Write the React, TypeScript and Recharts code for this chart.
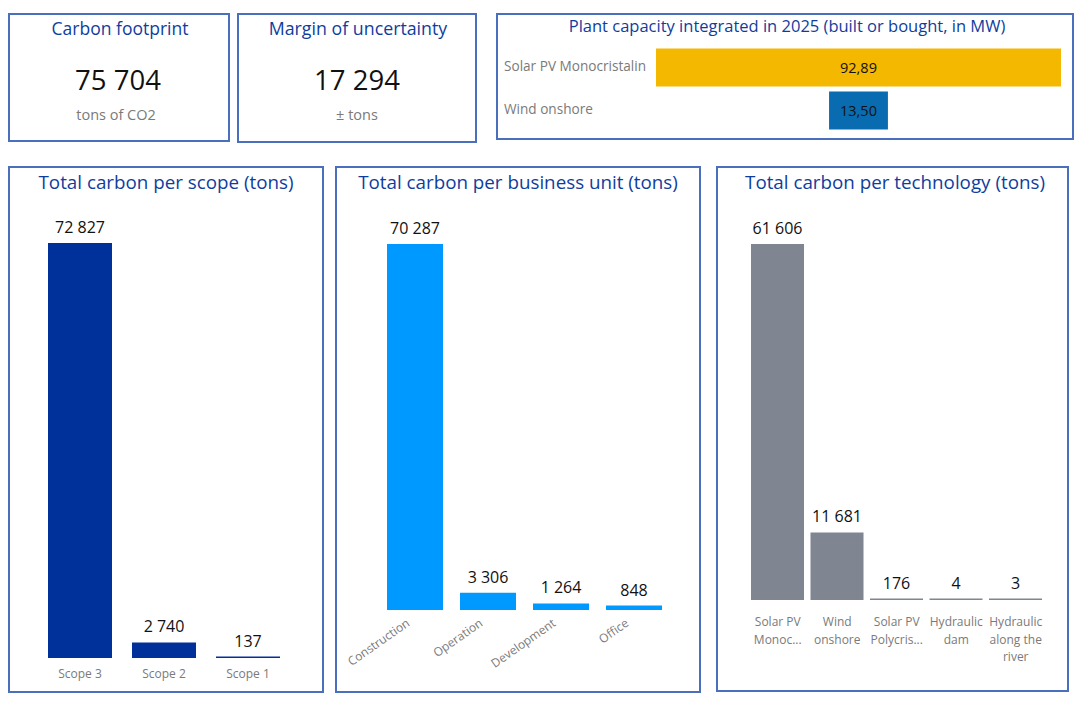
import { BarChart, Bar, XAxis, YAxis, Cell, LabelList } from "recharts";

const FONT = "'Open Sans', sans-serif";
const TITLE_BLUE = "#0f3d9e";
const BORDER = "#4a6fbd";
const GREY = "#7a7a7a";

const scopeNames = ["Scope 3", "Scope 2", "Scope 1"];
const scopeValues = [72827, 2740, 137];

const unitNames = ["Construction", "Operation", "Development", "Office"];
const unitValues = [70287, 3306, 1264, 848];

const techNames = [
  "Solar PV\nMonoc...",
  "Wind\nonshore",
  "Solar PV\nPolycris...",
  "Hydraulic\ndam",
  "Hydraulic\nalong the\nriver",
];
const techValues = [61606, 11681, 176, 4, 3];

const plantNames = ["Solar PV Monocristalin", "Wind onshore"];
const plantValues = [92.89, 13.5];
const plantColors = ["#f5b800", "#0a6cb0"];

const toRows = (names: string[], values: number[]) =>
  names.map((name, i) => ({ name, value: values[i] }));

const thousands = (v: any) => String(v).replace(/\B(?=(\d{3})+$)/g, " ");

function Box({ x, y, w, h }: { x: number; y: number; w: number; h: number }) {
  return (
    <div
      style={{
        position: "absolute",
        left: x - 1,
        top: y - 1,
        width: w + 2,
        height: h + 2,
        boxSizing: "border-box",
        border: `2px solid ${BORDER}`,
      }}
    />
  );
}

function Line(props: {
  text: string;
  cx: number;
  y: number;
  size: number;
  color: string;
}) {
  return (
    <div
      style={{
        position: "absolute",
        left: props.cx - 300,
        width: 600,
        top: props.y - 20,
        height: 40,
        lineHeight: "40px",
        textAlign: "center",
        fontFamily: FONT,
        fontSize: props.size,
        color: props.color,
        whiteSpace: "nowrap",
      }}
    >
      {props.text}
    </div>
  );
}

function WrappedTick({ x, y, payload, first }: any) {
  const lines = String(payload.value).split("\n");
  return (
    <text x={x} y={y} textAnchor="middle" fontFamily={FONT} fontSize={12} fill={GREY}>
      {lines.map((line, i) => (
        <tspan key={line} x={x} dy={i === 0 ? first : 17.5}>
          {line}
        </tspan>
      ))}
    </text>
  );
}

function SlantedTick({ x, y, payload }: any) {
  return (
    <text
      x={x - 4}
      y={y + 7}
      textAnchor="end"
      fontFamily={FONT}
      fontSize={12}
      fill={GREY}
      transform={`rotate(-35 ${x - 4} ${y + 7})`}
    >
      {payload.value}
    </text>
  );
}

function PlantTick({ y, payload }: any) {
  return (
    <text x={7} y={y + 4} fontFamily={FONT} fontSize={13.6} fill={GREY}>
      {payload.value}
    </text>
  );
}

function ColumnChart(props: {
  x: number;
  y: number;
  w: number;
  h: number;
  plotLeft: number;
  plotRight: number;
  plotTop: number;
  baseline: number;
  barSize: number;
  color: string;
  names: string[];
  values: number[];
  tick: any;
}) {
  const { x, y, w, h } = props;
  return (
    <div style={{ position: "absolute", left: x, top: y }}>
      <BarChart
        width={w}
        height={h}
        data={toRows(props.names, props.values)}
        margin={{
          top: props.plotTop - y,
          left: props.plotLeft - x,
          right: x + w - props.plotRight,
          bottom: 0,
        }}
      >
        <XAxis
          dataKey="name"
          interval={0}
          axisLine={false}
          tickLine={false}
          height={y + h - props.baseline}
          tick={props.tick}
        />
        <YAxis hide domain={[0, Math.max(...props.values)]} />
        <Bar
          dataKey="value"
          fill={props.color}
          barSize={props.barSize}
          minPointSize={1.5}
          isAnimationActive={false}
        >
          <LabelList
            dataKey="value"
            position="top"
            offset={10}
            formatter={thousands}
            style={{ fontFamily: FONT, fontSize: 16, fill: "#111" }}
          />
        </Bar>
      </BarChart>
    </div>
  );
}

function PlantChart() {
  const half = Math.max(...plantValues) / 2;
  return (
    <div style={{ position: "absolute", left: 497, top: 14 }}>
      <BarChart
        layout="vertical"
        width={576}
        height={125}
        data={toRows(plantNames, plantValues)}
        margin={{ top: 31.5, left: 0, right: 12, bottom: 7.5 }}
      >
        <XAxis type="number" hide domain={[-half, half]} />
        <YAxis
          type="category"
          dataKey="name"
          width={159}
          axisLine={false}
          tickLine={false}
          tick={<PlantTick />}
          interval={0}
        />
        <Bar
          dataKey={(d: any) => [-d.value / 2, d.value / 2]}
          barSize={38}
          isAnimationActive={false}
        >
          {plantColors.map((c) => (
            <Cell key={c} fill={c} />
          ))}
          <LabelList
            dataKey="value"
            position="center"
            formatter={(v: any) => Number(v).toFixed(2).replace(".", ",")}
            style={{ fontFamily: FONT, fontSize: 14.5, fill: "#111" }}
          />
        </Bar>
      </BarChart>
    </div>
  );
}

export default function App() {
  return (
    <div
      style={{
        position: "absolute",
        left: 0,
        top: 0,
        width: 1087,
        height: 707,
        background: "#fff",
        overflow: "hidden",
      }}
    >
      <Box x={9} y={14} w={220} h={127} />
      <Line text="Carbon footprint" cx={120} y={28} size={17.5} color={TITLE_BLUE} />
      <Line text="75 704" cx={118} y={80} size={27.5} color="#111" />
      <Line text="tons of CO2" cx={116} y={115} size={14.5} color={GREY} />

      <Box x={238} y={14} w={238} h={128} />
      <Line text="Margin of uncertainty" cx={358} y={28} size={17.8} color={TITLE_BLUE} />
      <Line text="17 294" cx={357} y={80} size={27.5} color="#111" />
      <Line text="± tons" cx={357} y={115} size={14.5} color={GREY} />

      <Box x={497} y={14} w={576} h={125} />
      <Line
        text="Plant capacity integrated in 2025 (built or bought, in MW)"
        cx={787}
        y={26}
        size={16.5}
        color={TITLE_BLUE}
      />
      <PlantChart />

      <Box x={9} y={167} w={314} h={525} />
      <Line text="Total carbon per scope (tons)" cx={166} y={182} size={18.8} color={TITLE_BLUE} />
      <ColumnChart
        x={9}
        y={167}
        w={314}
        h={525}
        plotLeft={38}
        plotRight={290}
        plotTop={243}
        baseline={658}
        barSize={64}
        color="#00309a"
        names={scopeNames}
        values={scopeValues}
        tick={<WrappedTick first={12} />}
      />

      <Box x={336} y={167} w={364} h={525} />
      <Line text="Total carbon per business unit (tons)" cx={518} y={182} size={18.8} color={TITLE_BLUE} />
      <ColumnChart
        x={336}
        y={167}
        w={364}
        h={525}
        plotLeft={378}
        plotRight={670}
        plotTop={244}
        baseline={610}
        barSize={56}
        color="#0099ff"
        names={unitNames}
        values={unitValues}
        tick={<SlantedTick />}
      />

      <Box x={717} y={167} w={351} h={524} />
      <Line text="Total carbon per technology (tons)" cx={895} y={182} size={18.8} color={TITLE_BLUE} />
      <ColumnChart
        x={717}
        y={167}
        w={351}
        h={524}
        plotLeft={748}
        plotRight={1045.5}
        plotTop={244}
        baseline={600}
        barSize={53}
        color="#7f8591"
        names={techNames}
        values={techValues}
        tick={<WrappedTick first={18} />}
      />
    </div>
  );
}
